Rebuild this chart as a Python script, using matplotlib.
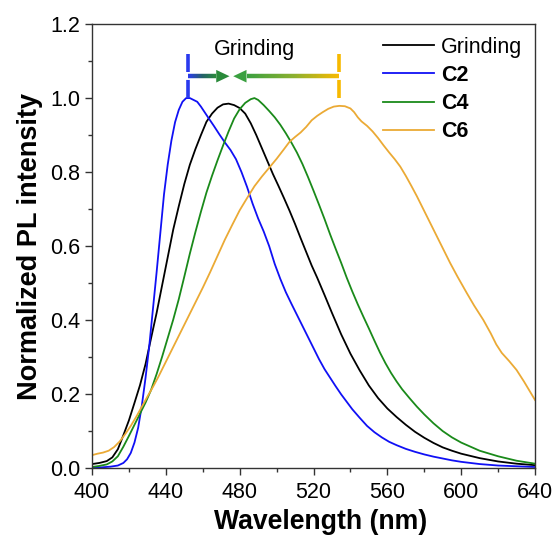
import numpy as np
import matplotlib
matplotlib.use("Agg")
import matplotlib.pyplot as plt
from matplotlib.collections import LineCollection
from matplotlib.colors import LinearSegmentedColormap
from matplotlib.ticker import MultipleLocator

plt.rcParams['font.family'] = ['Liberation Sans', 'DejaVu Sans']

# ---- PL spectra (wavelength in nm, normalized intensity) ----
grind_wl = [400, 404, 408, 411, 414, 417, 420, 423, 426, 429, 432, 435, 438, 441, 444, 447,
            450, 453, 456, 459, 462, 465, 468, 471, 474, 477, 480, 483, 486, 489, 492, 495,
            498, 501, 504, 507, 510, 513, 516, 519, 522, 526, 530, 535, 540, 545, 550, 555,
            560, 565, 570, 575, 580, 585, 590, 595, 600, 610, 620, 630, 640]
grind_I = [0.012, 0.015, 0.02, 0.03, 0.052, 0.09, 0.13, 0.177, 0.225, 0.282, 0.352, 0.42,
           0.495, 0.57, 0.645, 0.708, 0.768, 0.82, 0.862, 0.9, 0.936, 0.958, 0.974, 0.983,
           0.985, 0.981, 0.973, 0.958, 0.932, 0.9, 0.865, 0.83, 0.795, 0.763, 0.73, 0.696,
           0.66, 0.622, 0.585, 0.548, 0.515, 0.468, 0.42, 0.362, 0.31, 0.265, 0.224, 0.19,
           0.162, 0.139, 0.118, 0.099, 0.083, 0.069, 0.057, 0.048, 0.04, 0.028, 0.019,
           0.013, 0.009]

c2_wl = [400, 405, 410, 414, 417, 419, 421, 423, 425, 427, 429, 431, 433, 435, 437, 439, 441,
         443, 445, 447, 449, 451, 453, 455, 457, 459, 461, 463, 466, 469, 472, 475, 478, 481,
         484, 487, 490, 493, 496, 499, 502, 505, 508, 511, 514, 517, 520, 523, 526, 529, 532,
         535, 538, 541, 545, 549, 553, 557, 561, 565, 570, 575, 580, 585, 590, 595, 600, 610,
         620, 630, 640]
c2_I = [0.003, 0.003, 0.005, 0.008, 0.015, 0.025, 0.042, 0.07, 0.11, 0.17, 0.245, 0.33, 0.43,
        0.53, 0.635, 0.74, 0.82, 0.885, 0.935, 0.968, 0.99, 1.0, 1.0, 0.995, 0.99, 0.977,
        0.962, 0.947, 0.925, 0.902, 0.88, 0.86, 0.835, 0.8, 0.76, 0.715, 0.675, 0.64, 0.6,
        0.552, 0.512, 0.476, 0.445, 0.415, 0.385, 0.355, 0.325, 0.295, 0.268, 0.245, 0.222,
        0.2, 0.18, 0.16, 0.137, 0.115, 0.098, 0.084, 0.072, 0.063, 0.053, 0.045, 0.038,
        0.032, 0.027, 0.022, 0.018, 0.012, 0.008, 0.006, 0.004]

c4_wl = [400, 404, 408, 411, 414, 417, 420, 423, 426, 429, 432, 435, 438, 441, 444, 447, 450,
         453, 456, 459, 462, 465, 468, 471, 474, 477, 480, 483, 486, 488, 490, 493, 496, 499,
         502, 505, 508, 511, 514, 517, 520, 523, 526, 529, 532, 535, 538, 541, 544, 547, 550,
         553, 556, 559, 562, 565, 568, 572, 576, 580, 585, 590, 595, 600, 610, 620, 630, 640]
c4_I = [0.004, 0.007, 0.011, 0.019, 0.033, 0.059, 0.088, 0.118, 0.148, 0.178, 0.212, 0.255,
        0.302, 0.352, 0.402, 0.457, 0.518, 0.58, 0.638, 0.693, 0.745, 0.79, 0.832, 0.872,
        0.91, 0.945, 0.97, 0.987, 0.997, 1.0, 0.995, 0.981, 0.965, 0.948, 0.928, 0.905,
        0.88, 0.853, 0.822, 0.787, 0.75, 0.712, 0.673, 0.632, 0.593, 0.555, 0.515, 0.478,
        0.443, 0.41, 0.378, 0.345, 0.313, 0.284, 0.258, 0.235, 0.214, 0.19, 0.167, 0.146,
        0.122, 0.101, 0.084, 0.07, 0.048, 0.033, 0.021, 0.013]

c6_wl = [400, 403, 406, 409, 412, 415, 418, 421, 424, 427, 430, 433, 436, 440, 444, 448, 452,
         456, 460, 464, 468, 472, 476, 480, 484, 488, 492, 496, 500, 504, 507, 510, 513, 516,
         519, 522, 525, 528, 531, 534, 537, 540, 542, 544, 546, 549, 552, 555, 558, 561, 564,
         567, 570, 573, 576, 580, 585, 590, 594, 598, 603, 607, 612, 616, 619, 622, 626, 630,
         634, 637, 640]
c6_I = [0.036, 0.04, 0.043, 0.048, 0.058, 0.073, 0.093, 0.115, 0.14, 0.167, 0.194, 0.22, 0.248,
        0.288, 0.328, 0.368, 0.408, 0.448, 0.488, 0.53, 0.574, 0.618, 0.658, 0.697, 0.73,
        0.762, 0.788, 0.812, 0.836, 0.862, 0.882, 0.895, 0.907, 0.922, 0.94, 0.952, 0.962,
        0.971, 0.977, 0.979, 0.978, 0.972, 0.962, 0.948, 0.937, 0.925, 0.91, 0.892, 0.872,
        0.853, 0.835, 0.815, 0.79, 0.763, 0.735, 0.695, 0.645, 0.595, 0.555, 0.518, 0.474,
        0.44, 0.401, 0.365, 0.335, 0.312, 0.29, 0.266, 0.235, 0.21, 0.185]

# peak positions marked above the curves, and the grinding-induced shift target
peak_c2 = 452
peak_c6 = 534
peak_grind = 475.5

BLUE = '#1010F5'
GREEN = '#1A8A1A'
ORANGE = '#EBAA35'

fig = plt.figure(figsize=(5.58, 5.39), dpi=100)
ax = fig.add_axes([0.1649, 0.1308, 0.7939, 0.8247])

LW = 1.3
ax.plot(grind_wl, grind_I, color='black', lw=LW, label='Grinding')
ax.plot(c2_wl, c2_I, color=BLUE, lw=LW, label='C2')
ax.plot(c4_wl, c4_I, color=GREEN, lw=LW, label='C4')
ax.plot(c6_wl, c6_I, color=ORANGE, lw=LW, label='C6')

ax.set_xlim(400, 640)
ax.set_ylim(0, 1.2)
ax.xaxis.set_major_locator(MultipleLocator(40))
ax.xaxis.set_minor_locator(MultipleLocator(20))
ax.yaxis.set_major_locator(MultipleLocator(0.2))
ax.yaxis.set_minor_locator(MultipleLocator(0.1))
ax.yaxis.set_major_formatter(plt.FormatStrFormatter('%.1f'))
ax.tick_params(which='major', direction='out', length=5, width=1, labelsize=15.5,
               color='#333333')
ax.tick_params(axis='x', which='major', pad=5)
ax.tick_params(which='minor', direction='out', length=3, width=1, color='#333333')
for s in ax.spines.values():
    s.set_color('#333333')
    s.set_linewidth(1)

ax.set_xlabel('Wavelength (nm)', fontsize=19.2, fontweight='bold', labelpad=4)
ax.xaxis.label.set_x(0.515)
ax.set_ylabel('Normalized PL intensity', fontsize=19.5, fontweight='bold', labelpad=5)

leg = ax.legend(loc='upper right', frameon=False, fontsize=15.5, handlelength=2.4,
                handletextpad=0.3, labelspacing=0.33, borderaxespad=0.2,
                bbox_to_anchor=(1.0, 1.0))
for t in leg.get_texts()[1:]:
    t.set_fontweight('bold')

# dashed markers at the C2 and C6 emission maxima
y_lo, y_hi = 1.0, 1.118
ax.plot([peak_c2, peak_c2], [y_lo, y_hi], color='#2A3AEE', lw=2.6, ls=(0, (5, 2.2)))
ax.plot([peak_c6, peak_c6], [y_lo, y_hi], color='#F7B900', lw=2.6, ls=(0, (5, 2.2)))


def gradient_arrow(x0, x1, y, c_start, c_mid, c_head):
    """Shaft from x0 to the head base with a colour gradient, plus a solid head at x1."""
    head_len = 7.2 if x1 > x0 else -7.2
    head_half = 0.017
    xb = x1 - head_len
    xs = np.linspace(x0, xb, 80)
    pts = np.array([xs, np.full_like(xs, y)]).T.reshape(-1, 1, 2)
    segs = np.concatenate([pts[:-1], pts[1:]], axis=1)
    cmap = LinearSegmentedColormap.from_list('g', [c_start, c_mid, c_head])
    lc = LineCollection(segs, colors=cmap(np.linspace(0, 1, len(segs))), linewidths=3.2,
                        capstyle='butt')
    ax.add_collection(lc)
    ax.fill([xb, x1, xb], [y - head_half, y, y + head_half], color=c_head, lw=0)


arrow_y = 1.059
gradient_arrow(peak_c2, peak_grind - 1.0, arrow_y, '#2A3AEE', '#24606A', '#2A8A3A')
gradient_arrow(peak_c6, peak_grind + 1.0, arrow_y, '#F7B900', '#8AB030', '#3AA040')

ax.text(488, 1.13, 'Grinding', fontsize=15.5, ha='center', va='center')

fig.savefig('out.png', dpi=100)
